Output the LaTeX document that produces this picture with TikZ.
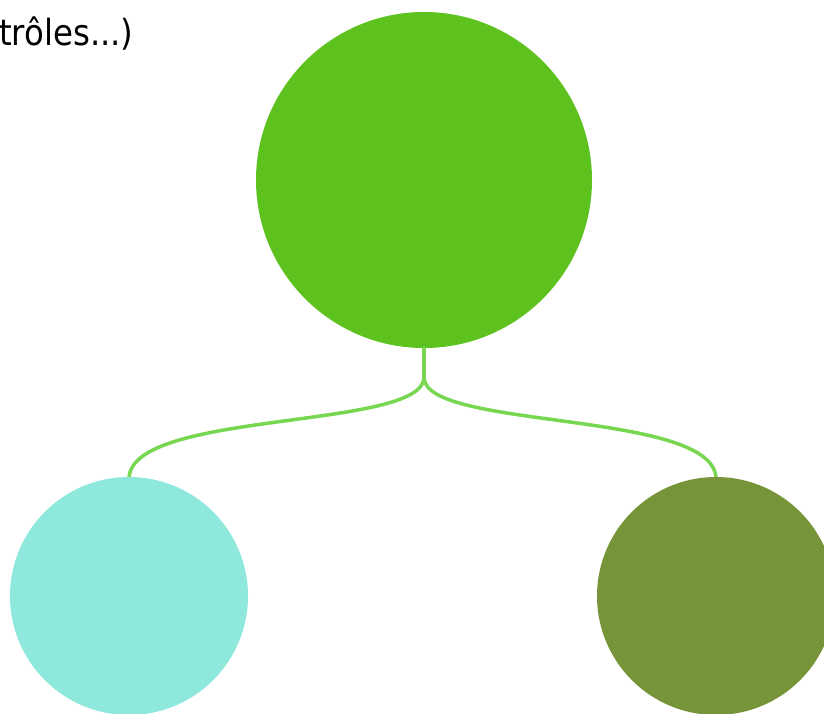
\documentclass[tikz,border=0pt]{standalone}
\usepackage{fontspec}
\setmainfont{DejaVu Sans}
\newfontfamily\labfont{DejaVu Sans Condensed}
\definecolor{bigg}{RGB}{93,194,30}
\definecolor{leftc}{RGB}{142,232,220}
\definecolor{rightc}{RGB}{118,149,58}
\definecolor{linkc}{RGB}{120,215,80}
\begin{document}
\begin{tikzpicture}[x=1pt,y=-1pt,
  ball/.style={circle,inner sep=0pt,draw=none},
  link/.style={draw=linkc,line width=3.5pt,line cap=round}]
\useasboundingbox (0,0) rectangle (824,713);
\begin{scope}
\clip (0,0) rectangle (824,713);
\coordinate (split) at (424,378);
\node[ball,fill=bigg,minimum size=336pt] (big) at (424,180) {};
\draw[link] (big.south) -- (split);
\draw[link] (split) .. controls (421,430) and (132,410) .. (129,478);
\draw[link] (split) .. controls (427,430) and (713,410) .. (716,478);
\node[ball,fill=leftc,minimum size=238pt] (left) at (129,596) {};
\node[ball,fill=rightc,minimum size=238pt] (right) at (716,596) {};
\node[anchor=base west,inner sep=0pt,font=\labfont\fontsize{36}{40}\selectfont] (txt) at (-1,45) {trôles...)};
\end{scope}
\end{tikzpicture}
\end{document}
